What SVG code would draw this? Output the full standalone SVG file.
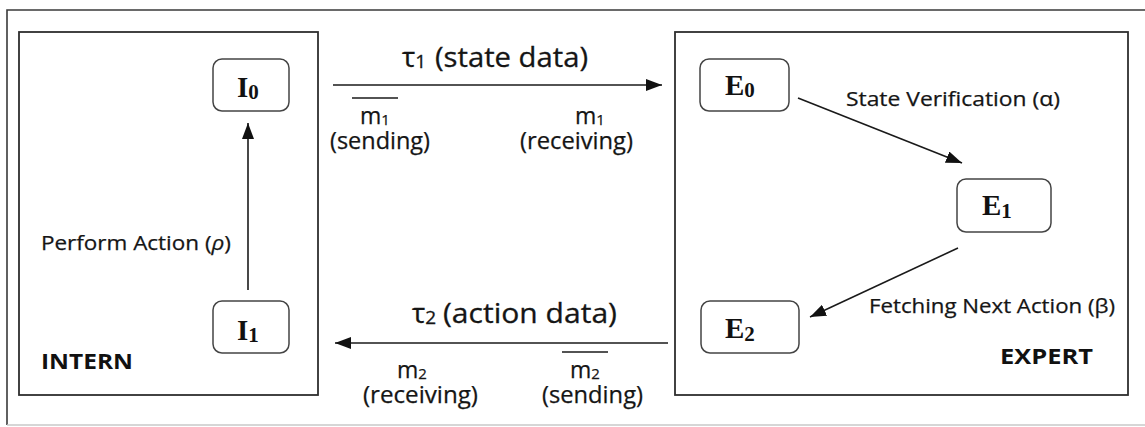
<svg xmlns="http://www.w3.org/2000/svg" width="1145" height="427" viewBox="0 0 1145 427">
  <defs>
    <marker id="arrow" viewBox="0 0 16 12" refX="16" refY="6" markerWidth="16" markerHeight="12" markerUnits="userSpaceOnUse" orient="auto">
      <path d="M0,0 L16,6 L0,12 Z" fill="#111"/>
    </marker>
    <style>
      .frame { fill: none; stroke: #3a3a3a; stroke-width: 1.6; }
      .panel { fill: #fff; stroke: #2e2e2e; stroke-width: 1.8; }
      .node rect { fill: #fff; stroke: #444; stroke-width: 1.5; }
      .nl { font-family: "Liberation Serif", "Times New Roman", serif; font-weight: bold; font-size: 29px; fill: #111; }
      .ns { font-size: 21px; }
      .lbl { font-family: "Open Sans", "Liberation Sans", sans-serif; font-size: 20px; fill: #151515; stroke: #151515; stroke-width: 0.25; }
      .big { font-family: "Open Sans", "Liberation Sans", sans-serif; font-size: 28px; fill: #151515; stroke: #151515; stroke-width: 0.3; }
      .bigsub { font-size: 19px; }
      .msg { font-family: "Open Sans", "Liberation Sans", sans-serif; font-size: 23px; fill: #151515; stroke: #151515; stroke-width: 0.25; }
      .msub { font-size: 15px; }
      .title { font-family: "Open Sans", "Liberation Sans", sans-serif; font-weight: bold; font-size: 21px; fill: #111; }
      .edge { stroke: #1a1a1a; stroke-width: 1.6; fill: none; marker-end: url(#arrow); }
      .bar { stroke: #1a1a1a; stroke-width: 1.4; }
    </style>
  </defs>

  <rect width="1145" height="427" fill="#fff"/>

  <!-- outer frame -->
  <path class="frame" d="M7,425 L7,10 L1145,10"/>
  <line x1="7" y1="425" x2="1145" y2="425" stroke="#c8c8c8" stroke-width="1.6"/>

  <!-- panels -->
  <g id="intern">
    <rect class="panel" x="19" y="32" width="299" height="363"/>
    <text class="title" x="41" y="369" textLength="92" lengthAdjust="spacingAndGlyphs">INTERN</text>
  </g>
  <g id="expert">
    <rect class="panel" x="675" y="32" width="453" height="363"/>
    <text class="title" x="1000" y="364" textLength="93" lengthAdjust="spacingAndGlyphs">EXPERT</text>
  </g>

  <!-- states -->
  <g id="I0" class="node">
    <rect x="213" y="59" width="76" height="52" rx="9"/>
    <text class="nl" x="237" y="97">I<tspan class="ns" dy="2">0</tspan></text>
  </g>
  <g id="I1" class="node">
    <rect x="213" y="301" width="76" height="52" rx="9"/>
    <text class="nl" x="237" y="340">I<tspan class="ns" dy="2">1</tspan></text>
  </g>
  <g id="E0" class="node">
    <rect x="700" y="59" width="89" height="52" rx="9"/>
    <text class="nl" x="725" y="95">E<tspan class="ns" dy="2">0</tspan></text>
  </g>
  <g id="E1" class="node">
    <rect x="957" y="179" width="94" height="53" rx="9"/>
    <text class="nl" x="982" y="215">E<tspan class="ns" dy="3">1</tspan></text>
  </g>
  <g id="E2" class="node">
    <rect x="701" y="301" width="98" height="52" rx="9"/>
    <text class="nl" x="725" y="338">E<tspan class="ns" dy="3">2</tspan></text>
  </g>

  <!-- connectors -->
  <g id="connectors">
    <line class="edge" x1="248" y1="290" x2="248" y2="123"/>
    <line class="edge" x1="798" y1="98" x2="962" y2="163"/>
    <line class="edge" x1="958" y1="248" x2="810" y2="317"/>
    <line class="edge" x1="333" y1="85" x2="662" y2="85"/>
    <line class="edge" x1="668" y1="343" x2="335" y2="343"/>
  </g>

  <!-- transition labels -->
  <g id="labels">
    <text class="lbl" x="41" y="250" textLength="190" lengthAdjust="spacingAndGlyphs">Perform Action (<tspan font-style="italic">ρ</tspan>)</text>
    <text class="lbl" x="846" y="106" textLength="214" lengthAdjust="spacingAndGlyphs">State Verification (α)</text>
    <text class="lbl" x="869" y="313" textLength="246" lengthAdjust="spacingAndGlyphs">Fetching Next Action (β)</text>

    <text class="big" x="402" y="67">τ<tspan class="bigsub" dy="1">1</tspan></text>
    <text class="big" x="435" y="67" textLength="153" lengthAdjust="spacingAndGlyphs">(state data)</text>
    <text class="big" x="412" y="323">τ<tspan class="bigsub" dy="1">2</tspan></text>
    <text class="big" x="443" y="323" textLength="174" lengthAdjust="spacingAndGlyphs">(action data)</text>

    <line class="bar" x1="352" y1="98" x2="398" y2="98"/>
    <text class="msg" x="360" y="124">m<tspan class="msub" dy="1">1</tspan></text>
    <text class="msg" x="330" y="149" textLength="100" lengthAdjust="spacingAndGlyphs">(sending)</text>
    <text class="msg" x="575" y="124">m<tspan class="msub" dy="1">1</tspan></text>
    <text class="msg" x="520" y="149" textLength="113" lengthAdjust="spacingAndGlyphs">(receiving)</text>

    <text class="msg" x="397" y="378">m<tspan class="msub" dy="1">2</tspan></text>
    <text class="msg" x="363" y="403" textLength="115" lengthAdjust="spacingAndGlyphs">(receiving)</text>
    <line class="bar" x1="562" y1="352" x2="608" y2="352"/>
    <text class="msg" x="570" y="378">m<tspan class="msub" dy="1">2</tspan></text>
    <text class="msg" x="542" y="403" textLength="101" lengthAdjust="spacingAndGlyphs">(sending)</text>
  </g>
</svg>
